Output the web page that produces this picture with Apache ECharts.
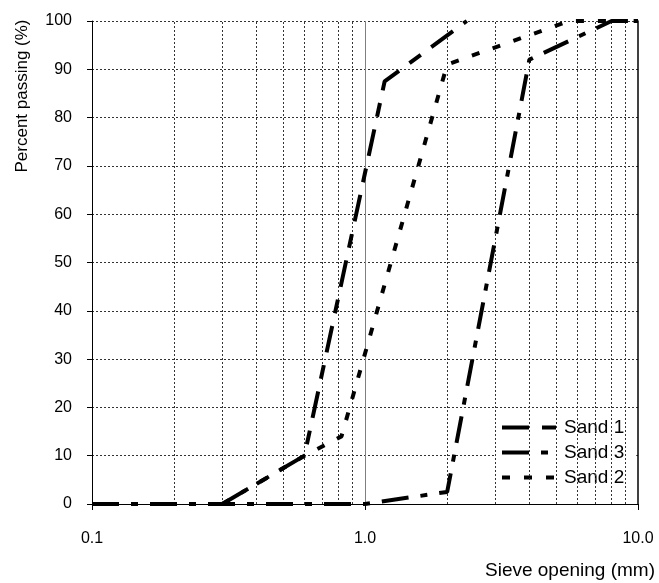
<!DOCTYPE html>
<html>
<head>
<meta charset="utf-8">
<script src="https://cdn.jsdelivr.net/npm/echarts@6/dist/echarts.min.js"></script>
<style>
  html, body { margin: 0; padding: 0; background: #fff; }
  #chart { width: 659px; height: 583px; }
</style>
</head>
<body>
<div id="chart"></div>
<script>
// grading curves, [sieve opening mm, percent passing]
var sand1 = [[0.3, 0], [0.6, 10], [1.18, 87.5], [2.36, 100]];
var sand2 = [[0.3, 0], [0.6, 10], [0.82, 14], [2.0, 91], [5.6, 100], [10, 100]];
var sand3 = [[0.1, 0], [1.0, 0], [2.0, 2.5], [4.0, 92], [8.0, 100], [10, 100]];
var legendOrder = ['Sand 1', 'Sand 3', 'Sand 2'];
var minorGrid = [0.2, 0.3, 0.4, 0.5, 0.6, 0.7, 0.8, 0.9, 2, 3, 4, 5, 6, 7, 8, 9];

var font = 'Liberation Sans, Arial, sans-serif';
var chart = echarts.init(document.getElementById('chart'));

function curve(name, data, dash) {
    return {
        name: name,
        type: 'line',
        data: data,
        symbol: 'none',
        clip: false,
        z: 5,
        lineStyle: { color: '#000', width: 4, type: dash },
        itemStyle: { color: '#000' }
    };
}

option = {
    backgroundColor: '#fff',
    animation: false,
    grid: { left: 92, right: 21, top: 21, bottom: 79 },
    legend: {
        data: legendOrder,
        orient: 'vertical',
        left: 495,
        top: 413,
        padding: [5, 12, 5, 5],
        backgroundColor: '#fff',
        itemWidth: 57,
        itemHeight: 19,
        itemGap: 6,
        itemStyle: { color: 'rgba(0,0,0,0)', borderWidth: 0 },
        lineStyle: { width: 4 },
        textStyle: { color: '#000', fontSize: 19, fontFamily: font }
    },
    graphic: [
        {
            type: 'text',
            x: 22, y: 96,
            rotation: Math.PI / 2,
            style: {
                text: 'Percent passing (%)',
                fill: '#000',
                font: '17px ' + font,
                textAlign: 'center',
                textVerticalAlign: 'middle'
            }
        },
        {
            type: 'text',
            x: 655, y: 571,
            style: {
                text: 'Sieve opening (mm)',
                fill: '#000',
                font: '19px ' + font,
                textAlign: 'right',
                textVerticalAlign: 'middle'
            }
        }
    ],
    xAxis: {
        type: 'log',
        logBase: 10,
        min: 0.1,
        max: 10,
        axisLine: { lineStyle: { color: '#000', width: 1 } },
        axisTick: { show: true, length: 6, lineStyle: { color: '#000' } },
        axisLabel: {
            color: '#000', fontSize: 16, fontFamily: font, margin: 27,
            formatter: function (v) { return v.toFixed(1); }
        },
        splitLine: {
            show: true, showMinLine: false, showMaxLine: false,
            lineStyle: { color: '#808080', width: 1, type: 'solid' }
        }
    },
    yAxis: [
        {
            type: 'value',
            min: 0,
            max: 100,
            interval: 10,
            axisLine: { show: true, lineStyle: { color: '#000', width: 1 } },
            axisTick: { show: true, length: 5, lineStyle: { color: '#000' } },
            axisLabel: { color: '#000', fontSize: 16, fontFamily: font, margin: 20 },
            splitLine: { show: true, lineStyle: { color: '#333', width: 1, type: [2, 2] } }
        },
        {
            type: 'value',
            min: 0,
            max: 100,
            position: 'right',
            axisLine: { show: true, lineStyle: { color: '#000', width: 1.5 } },
            axisTick: { show: false },
            axisLabel: { show: false },
            splitLine: { show: false }
        }
    ],
    series: [
        {
            name: 'grid',
            type: 'line',
            data: [],
            z: 1,
            silent: true,
            markLine: {
                silent: true,
                symbol: 'none',
                animation: false,
                label: { show: false },
                lineStyle: { color: '#333', width: 1, type: [2, 2] },
                emphasis: { disabled: true },
                data: minorGrid.map(function (v) { return { xAxis: v }; })
            }
        },
        curve('Sand 1', sand1, [27, 13, 14, 13]),
        curve('Sand 2', sand2, [8, 14]),
        curve('Sand 3', sand3, [27, 12, 7, 12])
    ]
};
chart.setOption(option);
</script>
</body>
</html>
